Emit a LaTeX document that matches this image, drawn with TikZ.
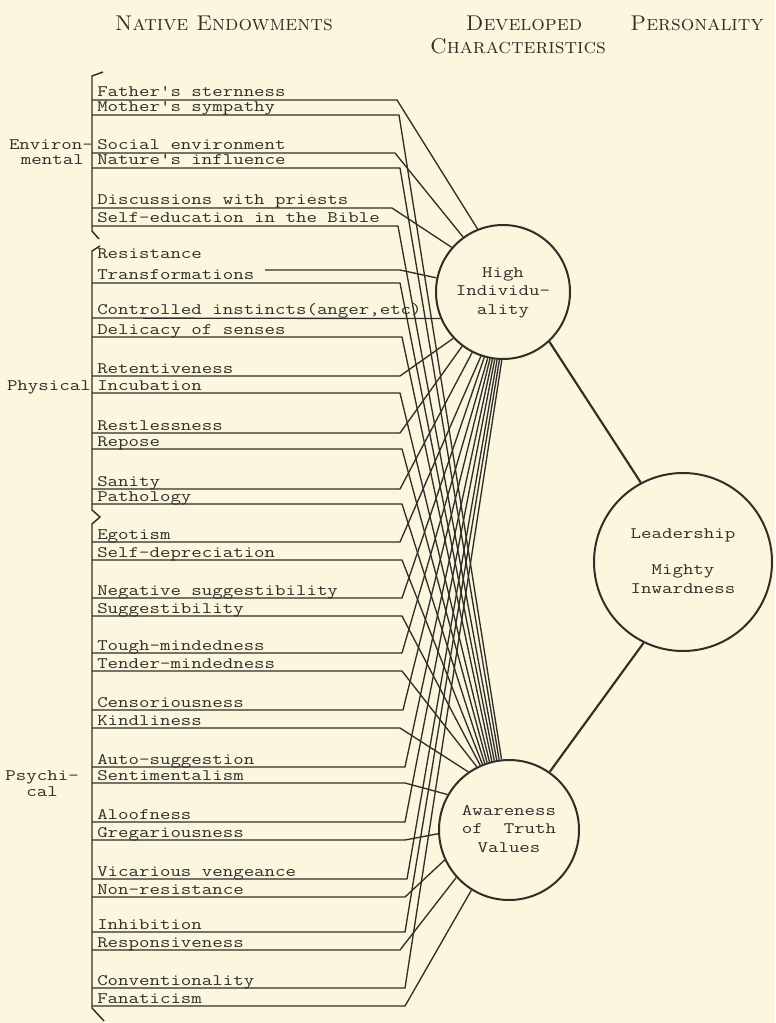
\documentclass[tikz,border=0pt]{standalone}
\usepackage{fontspec}
\usepackage{graphicx}
\definecolor{bg}{RGB}{251,247,222}
\definecolor{ink}{RGB}{50,45,40}
\newcommand\tw{\fontsize{12}{14}\selectfont\ttfamily\addfontfeature{FakeBold=1.2}}
\newcommand\sx[1]{\scalebox{1.27}[1]{#1}}
\begin{document}
\begin{tikzpicture}[x=0.75pt,y=-0.75pt,
  lab/.style={anchor=base west, inner sep=0pt, font=\tw, text=ink},
  grp/.style={anchor=base east, inner sep=0pt, font=\tw, text=ink},
  con/.style={draw=ink, line width=1pt, line join=round},
  brk/.style={draw=ink, line width=1.1pt, line join=round},
  link/.style={draw=ink, line width=1.6pt},
  circ/.style={circle, draw=ink, line width=1.5pt, inner sep=0pt, font=\tw, text=ink, align=center},
  hdr/.style={inner sep=0pt, anchor=base, font=\fontsize{16}{18}\selectfont\scshape, text=ink}]
\fill[bg] (0,0) rectangle (775,1023);
\useasboundingbox (0,0) rectangle (775,1023);

% headers
\node[hdr] (h1) at (224,31) {Native Endowments};
\node[hdr] (h2) at (524,31) {Developed};
\node[hdr] (h3) at (518,54) {Characteristics};
\node[hdr] (h4) at (697,31) {Personality};

% circles
\node[circ, minimum size=100.5pt] (hi) at (503,292)
  {\sx{\begin{tabular}{@{}c@{}}High\\Individu-\\ality\end{tabular}}};
\node[circ, minimum size=105pt] (aw) at (509,830)
  {\sx{\begin{tabular}{@{}c@{}}Awareness\\of\ \ Truth\\Values\end{tabular}}};
\node[circ, minimum size=133.5pt] (lead) at (683,562)
  {\sx{\begin{tabular}{@{}c@{}}Leadership\\[13pt]Mighty\\Inwardness\end{tabular}}};
\draw[link] (hi.-47) -- (lead.118);
\draw[link] (aw.55) -- (lead.-116);

% group labels and brackets
\node[grp] (g1) at (93,150) {\sx{Environ-}};
\node[grp] (g2) at (84,165) {\sx{mental}};
\node[grp] (g3) at (91,390) {\sx{Physical}};
\node[grp] (g4) at (79,780) {\sx{Psychi-}};
\node[grp] (g5) at (58,796) {\sx{cal}};
\draw[brk] (103,72) -- (92,76) -- (92,231) -- (99,239);
\draw[brk] (100,246) -- (92,251) -- (92,510) -- (100,517) -- (92,524) -- (92,1008) -- (104,1021);

% labels
\node[lab] (t1)  at (97,97)  {\sx{Father's sternness}};
\node[lab] (t2)  at (97,112) {\sx{Mother's sympathy}};
\node[lab] (t3)  at (97,150) {\sx{Social environment}};
\node[lab] (t4)  at (97,165) {\sx{Nature's influence}};
\node[lab] (t5)  at (97,205) {\sx{Discussions with priests}};
\node[lab] (t6)  at (97,223) {\sx{Self-education in the Bible}};
\node[lab] (t7)  at (97,259) {\sx{Resistance}};
\node[lab] (t8)  at (97,280) {\sx{Transformations}};
\node[lab] (t9)  at (97,315) {\sx{Controlled instincts(anger,etc)}};
\node[lab] (t10) at (97,334) {\sx{Delicacy of senses}};
\node[lab] (t11) at (97,373) {\sx{Retentiveness}};
\node[lab] (t12) at (97,390) {\sx{Incubation}};
\node[lab] (t13) at (97,430) {\sx{Restlessness}};
\node[lab] (t14) at (97,446) {\sx{Repose}};
\node[lab] (t15) at (97,486) {\sx{Sanity}};
\node[lab] (t16) at (97,501) {\sx{Pathology}};
\node[lab] (t17) at (97,539) {\sx{Egotism}};
\node[lab] (t18) at (97,557) {\sx{Self-depreciation}};
\node[lab] (t19) at (97,595) {\sx{Negative suggestibility}};
\node[lab] (t20) at (97,613) {\sx{Suggestibility}};
\node[lab] (t21) at (97,650) {\sx{Tough-mindedness}};
\node[lab] (t22) at (97,668) {\sx{Tender-mindedness}};
\node[lab] (t23) at (97,707) {\sx{Censoriousness}};
\node[lab] (t24) at (97,725) {\sx{Kindliness}};
\node[lab] (t25) at (97,764) {\sx{Auto-suggestion}};
\node[lab] (t26) at (97,780) {\sx{Sentimentalism}};
\node[lab] (t27) at (97,819) {\sx{Aloofness}};
\node[lab] (t28) at (97,837) {\sx{Gregariousness}};
\node[lab] (t29) at (97,876) {\sx{Vicarious vengeance}};
\node[lab] (t30) at (97,894) {\sx{Non-resistance}};
\node[lab] (t31) at (97,929) {\sx{Inhibition}};
\node[lab] (t32) at (97,947) {\sx{Responsiveness}};
\node[lab] (t33) at (97,985) {\sx{Conventionality}};
\node[lab] (t34) at (97,1003) {\sx{Fanaticism}};

% connectors
\coordinate (s1) at (92,100);   \draw[con] (s1) -- (397,100) -- (hi.112);
\coordinate (s2) at (92,115);   \draw[con] (s2) -- (399,115) -- (aw.96);
\coordinate (s3) at (92,153);   \draw[con] (s3) -- (395,153) -- (hi.126);
\coordinate (s4) at (92,168);   \draw[con] (s4) -- (400,168) -- (aw.98);
\coordinate (s5) at (92,208);   \draw[con] (s5) -- (392,208) -- (hi.139);
\coordinate (s6) at (92,226);   \draw[con] (s6) -- (398,226) -- (aw.100);
\coordinate (s7) at (265,270);  \draw[con] (s7) -- (400,270) -- (hi.168);
\coordinate (s8) at (92,283);   \draw[con] (s8) -- (400,283) -- (aw.102);
\coordinate (s9) at (92,318);   \draw[con] (s9) -- (hi.203);
\coordinate (s10) at (92,337);  \draw[con] (s10) -- (402,337) -- (aw.104);
\coordinate (s11) at (92,376);  \draw[con] (s11) -- (400,376) -- (hi.223);
\coordinate (s12) at (92,393);  \draw[con] (s12) -- (400,393) -- (aw.106);
\coordinate (s13) at (92,433);  \draw[con] (s13) -- (400,433) -- (hi.233);
\coordinate (s14) at (92,449);  \draw[con] (s14) -- (402,449) -- (aw.108);
\coordinate (s15) at (92,489);  \draw[con] (s15) -- (400,489) -- (hi.243);
\coordinate (s16) at (92,504);  \draw[con] (s16) -- (402,504) -- (aw.110);
\coordinate (s17) at (92,542);  \draw[con] (s17) -- (400,542) -- (hi.251);
\coordinate (s18) at (92,560);  \draw[con] (s18) -- (402,560) -- (aw.112);
\coordinate (s19) at (92,598);  \draw[con] (s19) -- (402,598) -- (hi.254);
\coordinate (s20) at (92,616);  \draw[con] (s20) -- (402,616) -- (aw.114);
\coordinate (s21) at (92,653);  \draw[con] (s21) -- (402,653) -- (hi.257);
\coordinate (s22) at (92,671);  \draw[con] (s22) -- (402,671) -- (aw.117);
\coordinate (s23) at (92,710);  \draw[con] (s23) -- (403,710) -- (hi.259);
\coordinate (s24) at (92,728);  \draw[con] (s24) -- (400,728) -- (aw.125);
\coordinate (s25) at (92,767);  \draw[con] (s25) -- (405,767) -- (hi.261);
\coordinate (s26) at (92,783);  \draw[con] (s26) -- (405,783) -- (aw.150);
\coordinate (s27) at (92,822);  \draw[con] (s27) -- (405,822) -- (hi.263);
\coordinate (s28) at (92,840);  \draw[con] (s28) -- (405,840) -- (aw.183);
\coordinate (s29) at (92,879);  \draw[con] (s29) -- (407,879) -- (hi.265);
\coordinate (s30) at (92,897);  \draw[con] (s30) -- (405,897) -- (aw.205);
\coordinate (s31) at (92,932);  \draw[con] (s31) -- (405,932) -- (hi.267);
\coordinate (s32) at (92,950);  \draw[con] (s32) -- (400,950) -- (aw.222);
\coordinate (s33) at (92,988);  \draw[con] (s33) -- (405,988) -- (hi.269);
\coordinate (s34) at (92,1006); \draw[con] (s34) -- (405,1006) -- (aw.238);
\end{tikzpicture}
\end{document}
